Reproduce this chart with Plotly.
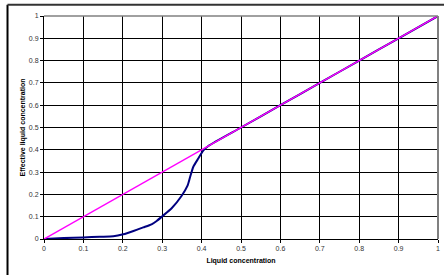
import plotly.graph_objects as go

# Effective concentration curve (navy)
x_eff = [0.0, 0.05, 0.10, 0.142, 0.176, 0.201, 0.227, 0.252, 0.273, 0.286, 0.301,
         0.324, 0.349, 0.364, 0.371, 0.379, 0.392, 0.404, 0.417, 0.5, 0.6, 0.7,
         0.8, 0.9, 1.0]
y_eff = [0.0, 0.004, 0.007, 0.010, 0.012, 0.021, 0.036, 0.052, 0.066, 0.081, 0.103,
         0.138, 0.193, 0.238, 0.279, 0.324, 0.362, 0.396, 0.417, 0.5, 0.6, 0.7,
         0.8, 0.9, 1.0]

# Reference diagonal (magenta)
x_ref = [0.0, 1.0]
y_ref = [0.0, 1.0]

tick_vals = [0, 0.1, 0.2, 0.3, 0.4, 0.5, 0.6, 0.7, 0.8, 0.9, 1]
tick_text = ["0", "0.1", "0.2", "0.3", "0.4", "0.5", "0.6", "0.7", "0.8", "0.9", "1"]

fig = go.Figure()
fig.add_trace(go.Scatter(x=x_eff, y=y_eff, mode="lines", line_shape="spline",
                         line=dict(color="#000080", width=2, smoothing=0.6),
                         showlegend=False))
fig.add_trace(go.Scatter(x=x_ref, y=y_ref, mode="lines",
                         line=dict(color="#FF00FF", width=1.5), showlegend=False))

axis_common = dict(
    range=[0, 1], tickvals=tick_vals, ticktext=tick_text, automargin=False,
    showgrid=True, gridcolor="#000000", gridwidth=1,
    zeroline=False, showline=True, linecolor="#000000", linewidth=1,
    ticks="outside", ticklen=3, tickcolor="#000000",
    tickfont=dict(family="Liberation Sans, Arial", size=7, color="#333333"),
)

fig.update_layout(
    width=444, height=275,
    margin=dict(l=44, r=6, t=16, b=36),
    paper_bgcolor="white", plot_bgcolor="white",
    xaxis=dict(**axis_common,
               title=dict(text="<b>Liquid concentration</b>", standoff=6,
                          font=dict(family="Liberation Sans, Arial", size=7, color="#000000"))),
    yaxis=dict(**axis_common,
               title=dict(text="<b>Effective liquid concentration</b>", standoff=2,
                          font=dict(family="Liberation Sans, Arial", size=7, color="#000000"))),
    shapes=[
        dict(type="line", xref="paper", yref="paper", x0=1, x1=1, y0=0, y1=1,
             line=dict(color="#808080", width=2)),
        dict(type="line", xref="paper", yref="paper", x0=0, x1=1, y0=1, y1=1,
             line=dict(color="#808080", width=1.5)),
        dict(type="line", xref="paper", yref="paper", x0=-0.0926, x1=-0.0926,
             y0=-0.2, y1=1.05, line=dict(color="#000000", width=2)),
        dict(type="line", xref="paper", yref="paper", x0=-0.0926, x1=1.1,
             y0=1.05, y1=1.05, line=dict(color="#333333", width=2)),
    ],
)

fig.write_html("out.html", config={"displayModeBar": False},
               post_script="document.body.style.margin='0';")
